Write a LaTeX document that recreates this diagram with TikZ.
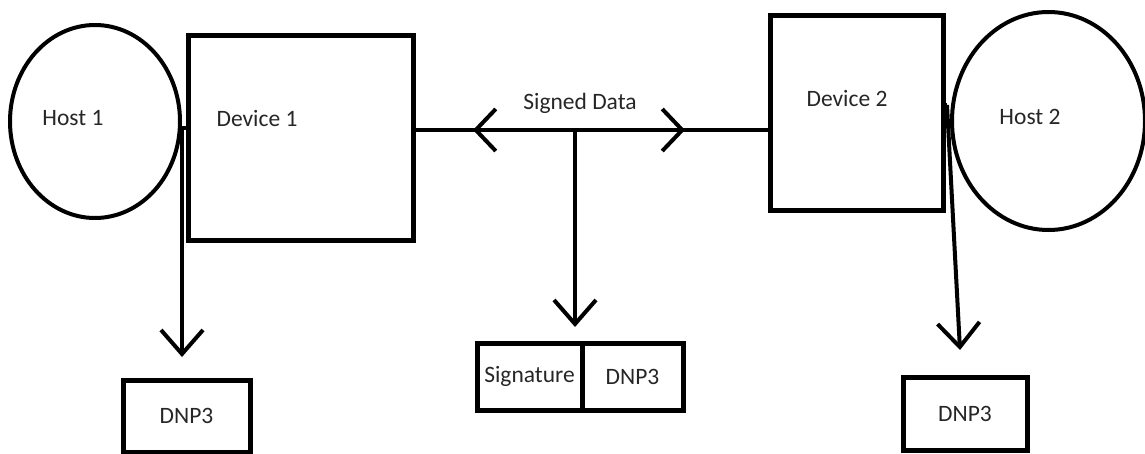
\documentclass[tikz,border=0pt]{standalone}
\usepackage{fontspec}
\setmainfont{Carlito}
\usetikzlibrary{shapes.geometric,arrows.meta}
\begin{document}
\begin{tikzpicture}[x=1pt,y=-1pt,
  lbl/.style={font=\fontsize{23.5}{27}\selectfont, text=black!85, inner sep=0},
  boxline/.style={draw, rectangle, line width=5pt, inner sep=0, font=\fontsize{23.5}{27}\selectfont, text=black!85},
  host/.style={draw, ellipse, line width=4pt, inner sep=0},
  conn/.style={line width=4pt},
  barb/.style={conn, -{Straight Barb[length=24pt,width=42pt]}},
  midbarb/.style={conn, -{Straight Barb[length=20pt,width=42pt]}}]
\useasboundingbox (0,0) rectangle (1145,453);
% shapes
\node[host, minimum width=170pt, minimum height=193pt] (h1) at (95,121.5) {};
\node[boxline, minimum width=225pt, minimum height=205pt] (d1) at (300.5,137.5) {};
\node[boxline, minimum width=173pt, minimum height=195pt] (d2) at (856.5,112.5) {};
\node[host, minimum width=193pt, minimum height=218pt] (h2) at (1048.5,121) {};
\node[boxline, minimum width=127pt, minimum height=72pt] (b1) at (186.5,416) {DNP3};
\node[boxline, minimum width=124pt, minimum height=73pt] (b2) at (965,413.5) {DNP3};
\node[boxline, minimum width=105pt, minimum height=67pt] (sig) at (529.5,376.5) {Signature};
\node[boxline, minimum width=101pt, minimum height=67pt] (dnp) at (632.5,376.5) {DNP3};
% labels
\node[lbl] (lh1) at (73,118) {Host 1};
\node[lbl] (ld1) at (257,118) {Device 1};
\node[lbl] (lsd) at (580,103) {Signed Data};
\node[lbl] (ld2) at (847,98) {Device 2};
\node[lbl] (lh2) at (1030,117) {Host 2};
% coordinates
\coordinate (j1) at (182,128);
\coordinate (t1) at (182,357);
\coordinate (m) at (575,130);
\coordinate (lt) at (473,130);
\coordinate (rt) at (685,130);
\coordinate (t2) at (575,327);
\coordinate (j2) at (947,105);
\coordinate (t3) at (960,350);
% connectors
\draw[conn] (j1) -- (d1.west |- j1);
\draw[barb] (j1) -- (t1);
\draw[conn] (d1.east |- m) -- (d2.west |- m);
\draw[midbarb] (m) -- (lt);
\draw[midbarb] (m) -- (rt);
\draw[barb] (m) -- (t2);
\draw[conn] (d2.east |- j2) -- (j2);
\draw[barb] (j2) -- (t3);
\end{tikzpicture}
\end{document}
